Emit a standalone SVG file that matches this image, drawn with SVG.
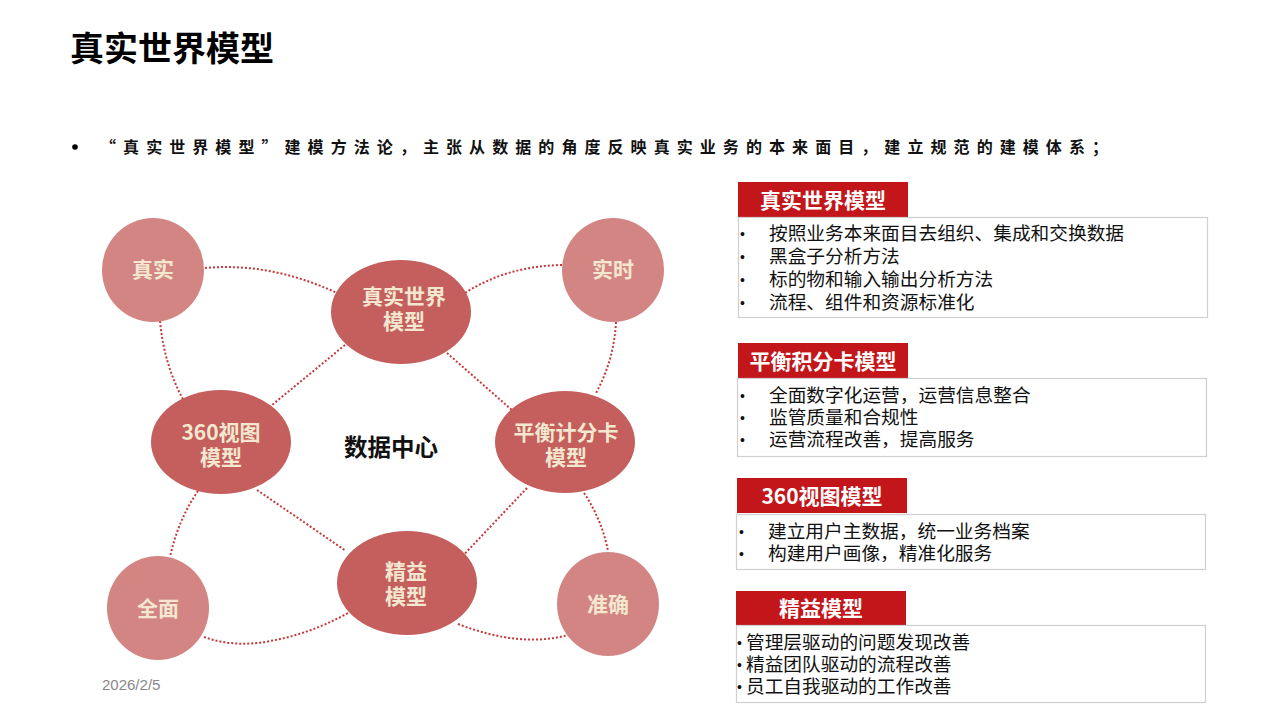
<svg xmlns="http://www.w3.org/2000/svg" width="1280" height="720" viewBox="0 0 1280 720">
<style>
.outer{fill:#D38583}
.inner{fill:#C45F5E}
.nt{font-family:"Noto Sans CJK SC",sans-serif;font-weight:bold;font-size:21px;fill:#F3E8CF;text-anchor:middle}
.conn{fill:none;stroke:#C8383A;stroke-width:2;stroke-dasharray:2 2}
.hdr{fill:#C3161B}
.ht{font-family:"Noto Sans CJK SC",sans-serif;font-weight:bold;font-size:21px;fill:#fff;text-anchor:middle}
.box{fill:#fff;stroke:#D0D0D0;stroke-width:1.2}
.it{font-family:"Noto Sans CJK SC",sans-serif;font-size:18.7px;fill:#111}
.bu{font-family:"Liberation Sans",sans-serif;font-size:14px;fill:#111}
</style>
<rect width="1280" height="720" fill="#fff"/>
<text x="70" y="61" font-family="Noto Sans CJK SC,sans-serif" font-weight="bold" font-size="34" fill="#000">真实世界模型</text>
<circle cx="75" cy="147" r="2.8" fill="#000"/>
<text x="100" y="153" font-family="Noto Sans CJK SC,sans-serif" font-weight="bold" font-size="16" fill="#111" textLength="1008" lengthAdjust="spacing">“真实世界模型”建模方法论，主张从数据的角度反映真实业务的本来面目，建立规范的建模体系；</text>

<g id="connectors">
<path class="conn" d="M205,268 Q270,262 337,293"/>
<path class="conn" d="M562,265 Q505,266 462,295"/>
<path class="conn" d="M160,321 Q164,365 184,401"/>
<path class="conn" d="M616,322 Q614,360 596,393"/>
<path class="conn" d="M345,345 L272,405"/>
<path class="conn" d="M447,353 L513,411"/>
<path class="conn" d="M257,490 L346,551"/>
<path class="conn" d="M527,488 L457,562"/>
<path class="conn" d="M198,491 Q178,520 170,557"/>
<path class="conn" d="M584,493 Q602,520 608,551"/>
<path class="conn" d="M204,637 Q235,648 270,641 Q310,634 348,613"/>
<path class="conn" d="M458,624 Q520,648 568,635"/>
</g>

<g id="n-zhenshi"><ellipse class="outer" cx="153" cy="270" rx="51" ry="52"/><text class="nt" x="153" y="277">真实</text></g>
<g id="n-shishi"><ellipse class="outer" cx="613" cy="270" rx="51" ry="52"/><text class="nt" x="613" y="277">实时</text></g>
<g id="n-quanmian"><ellipse class="outer" cx="158" cy="608" rx="51" ry="52"/><text class="nt" x="158" y="616">全面</text></g>
<g id="n-zhunque"><ellipse class="outer" cx="608" cy="604" rx="51" ry="52"/><text class="nt" x="608" y="612">准确</text></g>
<g id="n-real"><ellipse class="inner" cx="401" cy="312" rx="70" ry="52"/><text class="nt" x="404" y="304">真实世界</text><text class="nt" x="404" y="329">模型</text></g>
<g id="n-360"><ellipse class="inner" cx="221" cy="442" rx="70" ry="52"/><text class="nt" x="221" y="440">360视图</text><text class="nt" x="221" y="465">模型</text></g>
<g id="n-bsc"><ellipse class="inner" cx="565" cy="442" rx="70" ry="51"/><text class="nt" x="566" y="440">平衡计分卡</text><text class="nt" x="566" y="465">模型</text></g>
<g id="n-lean"><ellipse class="inner" cx="407" cy="583" rx="70" ry="52"/><text class="nt" x="406" y="579">精益</text><text class="nt" x="406" y="604">模型</text></g>
<g id="n-center"><text x="391" y="456" text-anchor="middle" font-family="Noto Sans CJK SC,sans-serif" font-weight="bold" font-size="23.5" fill="#111">数据中心</text></g>

<g id="p1">
<rect class="hdr" x="738" y="182" width="170" height="35"/>
<text class="ht" x="823" y="208">真实世界模型</text>
<rect class="box" x="738.5" y="217.5" width="469" height="100"/>
<text class="bu" x="740" y="239">•</text><text class="it" x="769" y="240">按照业务本来面目去组织、集成和交换数据</text>
<text class="bu" x="740" y="262">•</text><text class="it" x="769" y="263">黑盒子分析方法</text>
<text class="bu" x="740" y="285">•</text><text class="it" x="769" y="286">标的物和输入输出分析方法</text>
<text class="bu" x="740" y="308">•</text><text class="it" x="769" y="309">流程、组件和资源标准化</text>
</g>
<g id="p2">
<rect class="hdr" x="738" y="343" width="170" height="35"/>
<text class="ht" x="823" y="369">平衡积分卡模型</text>
<rect class="box" x="737.5" y="378.5" width="469" height="78"/>
<text class="bu" x="740" y="401">•</text><text class="it" x="769" y="402">全面数字化运营，运营信息整合</text>
<text class="bu" x="740" y="423">•</text><text class="it" x="769" y="424">监管质量和合规性</text>
<text class="bu" x="740" y="445">•</text><text class="it" x="769" y="446">运营流程改善，提高服务</text>
</g>
<g id="p3">
<rect class="hdr" x="737" y="478" width="170" height="35"/>
<text class="ht" x="822" y="504">360视图模型</text>
<rect class="box" x="736.5" y="514.5" width="469" height="55"/>
<text class="bu" x="739" y="537">•</text><text class="it" x="768" y="538">建立用户主数据，统一业务档案</text>
<text class="bu" x="739" y="559">•</text><text class="it" x="768" y="560">构建用户画像，精准化服务</text>
</g>
<g id="p4">
<rect class="hdr" x="736" y="591" width="170" height="34"/>
<text class="ht" x="821" y="616">精益模型</text>
<rect class="box" x="736.5" y="625.5" width="469" height="77"/>
<text class="bu" x="737" y="648">•</text><text class="it" x="746" y="649">管理层驱动的问题发现改善</text>
<text class="bu" x="737" y="670">•</text><text class="it" x="746" y="671">精益团队驱动的流程改善</text>
<text class="bu" x="737" y="692">•</text><text class="it" x="746" y="693">员工自我驱动的工作改善</text>
</g>
<text x="102" y="690" font-family="Liberation Sans,sans-serif" font-size="15" fill="#888">2026/2/5</text>
</svg>
